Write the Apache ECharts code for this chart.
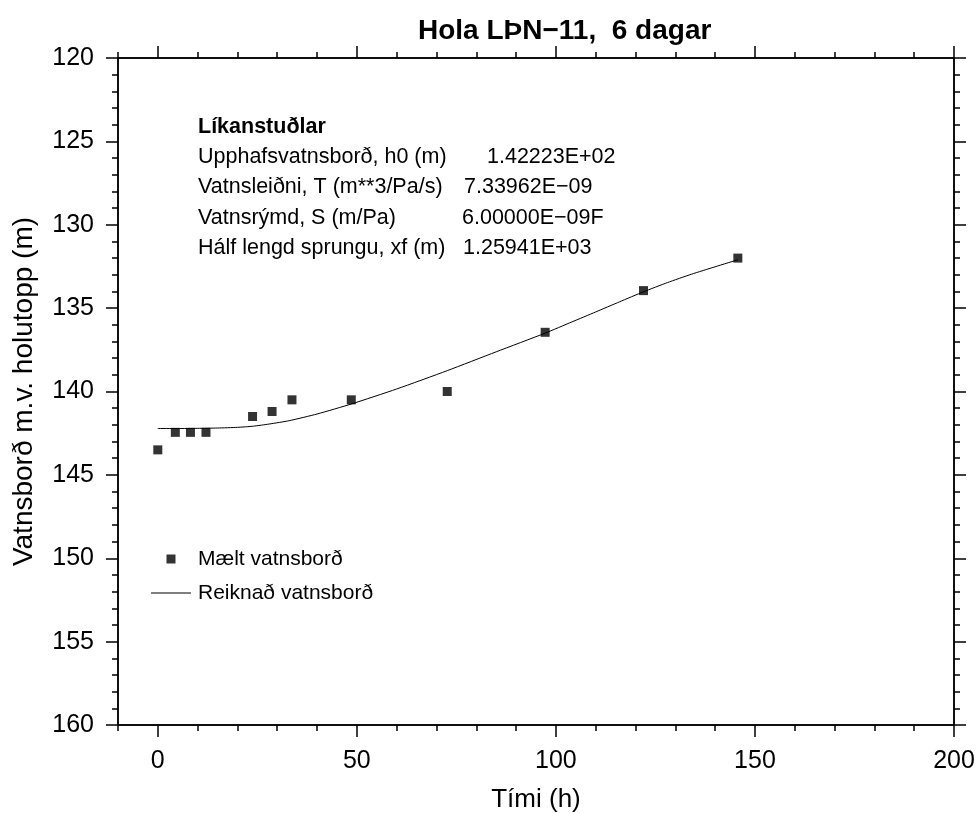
<!DOCTYPE html>
<html>
<head>
<meta charset="utf-8">
<script src="https://cdn.jsdelivr.net/npm/echarts@6/dist/echarts.min.js"></script>
<style>
html,body{margin:0;padding:0;background:#fff;}
#chart{width:980px;height:813px;}
</style>
</head>
<body>
<div id="chart"></div>
<script>
// ---- data ----
var measuredX = [0, 4.4, 8.2, 12.1, 23.8, 28.7, 33.7, 48.6, 72.7, 97.3, 122.0, 145.7];
var measuredY = [143.5, 142.45, 142.45, 142.45, 141.5, 141.2, 140.5, 140.5, 140.0, 136.45, 133.95, 132.0];
var modelX = [0, 5, 10, 15, 20, 24, 28, 33, 40, 48.6, 60, 72.7, 85, 97.3, 104, 110, 116, 122, 128, 134, 140, 145.7];
var modelY = [142.22, 142.22, 142.21, 142.19, 142.15, 142.08, 141.95, 141.75, 141.35, 140.75, 139.85, 138.75, 137.62, 136.5, 135.83, 135.23, 134.62, 134.02, 133.47, 132.97, 132.52, 132.1];
var xMajorTicks = [0, 50, 100, 150, 200];
var paramNames = ['Upphafsvatnsborð, h0 (m)', 'Vatnsleiðni, T (m**3/Pa/s)', 'Vatnsrýmd, S (m/Pa)', 'Hálf lengd sprungu, xf (m)'];
var paramValues = ['1.42223E+02', '7.33962E\u221209', '6.00000E\u221209F', '1.25941E+03'];
var seriesNames = ['Mælt vatnsborð', 'Reiknað vatnsborð'];
var titleText = 'Hola LÞN\u221211,  6 dagar';
var paramHeader = 'Líkanstuðlar';

var FONT = 'Liberation Sans, Arial, Helvetica, sans-serif';
function zip(a, b) { return a.map(function (v, i) { return [v, b[i]]; }); }

var lineStyle = { color: '#000', width: 1.5 };
var tickStyle = { color: '#000', width: 1.5 };

function xAx(pos, major, labels) {
  var ax = {
    type: 'value', position: pos, min: -10, max: 200, interval: 10,
    splitLine: { show: false },
    axisLine: { show: true, onZero: false, lineStyle: lineStyle },
    axisTick: { show: true, inside: false, length: major ? 12 : 6, lineStyle: tickStyle },
    axisLabel: { show: false }
  };
  if (major) ax.axisTick.customValues = xMajorTicks;
  if (labels) {
    ax.axisLabel = { show: true, customValues: xMajorTicks, fontSize: 25, color: '#000', fontFamily: FONT, margin: 24 };
    ax.name = 'Tími (h)';
    ax.nameLocation = 'middle';
    ax.nameGap = 62;
    ax.nameTextStyle = { fontSize: 26, color: '#000', fontFamily: FONT };
  }
  return ax;
}
function yAx(pos, major, labels) {
  var ax = {
    type: 'value', position: pos, min: 120, max: 160, inverse: true,
    interval: major ? 5 : 1,
    splitLine: { show: false },
    axisLine: { show: true, onZero: false, lineStyle: lineStyle },
    axisTick: { show: true, inside: false, length: major ? 12 : 6, lineStyle: tickStyle },
    axisLabel: { show: false }
  };
  if (labels) {
    ax.axisLabel = { show: true, fontSize: 25, color: '#000', fontFamily: FONT, margin: 24 };
    ax.name = 'Vatnsborð m.v. holutopp (m)';
    ax.nameLocation = 'middle';
    ax.nameGap = 80;
    ax.nameTextStyle = { fontSize: 28, color: '#000', fontFamily: FONT };
  }
  return ax;
}

var graphics = [{
  type: 'text', left: 198, top: 127 - 11,
  style: { text: paramHeader, font: 'bold 21.5px ' + FONT, fill: '#000' }
}];
var rowY = [157, 187, 218, 248];
var valX = [487, 464, 462, 463];
for (var i = 0; i < paramNames.length; i++) {
  graphics.push({ type: 'text', left: 198, top: rowY[i] - 11,
    style: { text: paramNames[i], font: '21.5px ' + FONT, fill: '#000' } });
  graphics.push({ type: 'text', left: valX[i], top: rowY[i] - 11,
    style: { text: paramValues[i], font: '21.5px ' + FONT, fill: '#000' } });
}

var chart = echarts.init(document.getElementById('chart'), null, { renderer: 'canvas' });
chart.setOption({
  backgroundColor: '#fff',
  animation: false,
  title: {
    text: titleText, left: 413, top: 12,
    textStyle: { fontSize: 28, fontWeight: 'bold', color: '#000', fontFamily: FONT }
  },
  grid: { left: 118, right: 26, top: 58, bottom: 88, containLabel: false, outerBoundsMode: 'none' },
  xAxis: [xAx('bottom', true, true), xAx('bottom', false, false), xAx('top', true, false), xAx('top', false, false)],
  yAxis: [yAx('left', true, true), yAx('left', false, false), yAx('right', true, false), yAx('right', false, false)],
  legend: {
    orient: 'vertical', left: 146, top: 542,
    itemWidth: 40, itemHeight: 9, itemGap: 10,
    data: [
      { name: seriesNames[0], icon: 'path://M0,0L10,0L10,10L0,10Z' },
      { name: seriesNames[1], icon: 'path://M0,0L40,0L40,1L0,1Z' }
    ],
    textStyle: { fontSize: 21, color: '#000', fontFamily: FONT, lineHeight: 24, padding: [0, 0, 0, 2] }
  },
  graphic: graphics,
  series: [{
    name: seriesNames[0], type: 'scatter', xAxisIndex: 0, yAxisIndex: 0,
    symbol: 'rect', symbolSize: 9,
    itemStyle: { color: '#000' },
    data: zip(measuredX, measuredY)
  }, {
    name: seriesNames[1], type: 'line', xAxisIndex: 0, yAxisIndex: 0,
    symbol: 'none', showSymbol: false, smooth: 0.2,
    lineStyle: { color: '#000', width: 1 },
    itemStyle: { color: '#000' },
    data: zip(modelX, modelY)
  }]
});
</script>
</body>
</html>
